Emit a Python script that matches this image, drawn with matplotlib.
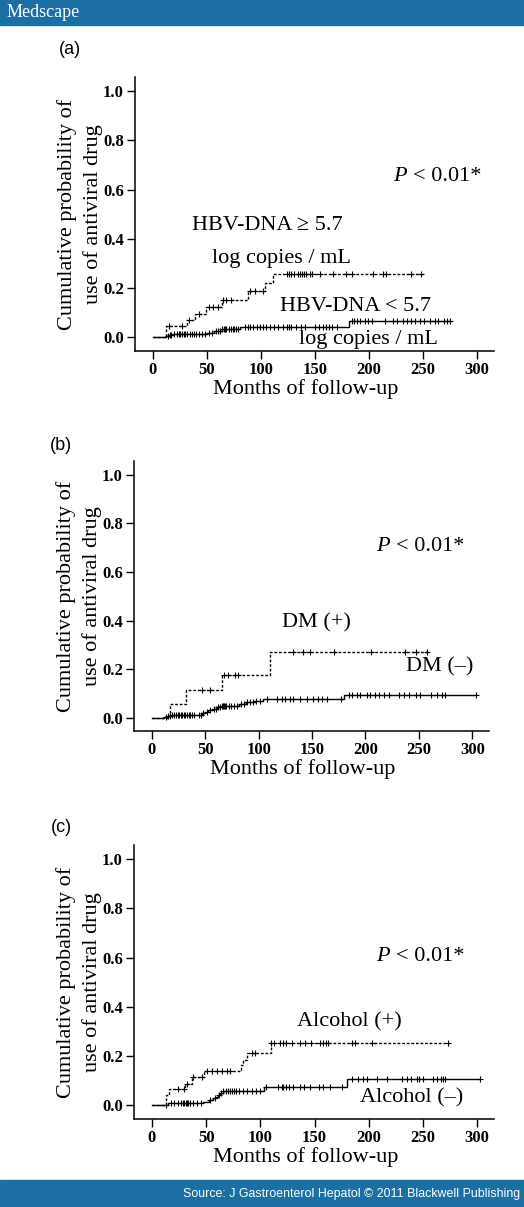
import numpy as np
import matplotlib
matplotlib.use("Agg")
import matplotlib.pyplot as plt
from matplotlib.patches import Rectangle

SERIF = "Liberation Serif"
SANS = "Liberation Sans"

# ---- panel (a): HBV-DNA ----
a_hi_times = [0, 12.3, 31.5, 39, 49, 64, 88, 104, 111]
a_hi_probs = [0, 0.046, 0.07, 0.097, 0.124, 0.154, 0.189, 0.221, 0.259]
a_hi_end = 250
a_hi_censor = [14.5, 27, 33, 43, 51.5, 56, 60.5, 65, 68, 72, 90, 94.5, 102,
               124, 126, 128, 131, 134, 136, 138, 140, 142, 145, 147, 155,
               167, 179, 184, 204, 213, 216, 239, 248]

a_lo_times = [0, 12.5, 15, 19, 50, 57, 64, 81, 181]
a_lo_probs = [0, 0.005, 0.009, 0.012, 0.018, 0.028, 0.035, 0.043, 0.067]
a_lo_end = 276
a_lo_censor = [14, 16, 17, 20, 22, 24, 25, 27, 29, 30, 32, 34, 36, 38, 40, 43,
               45, 48, 52, 55, 58, 60, 62, 64, 66, 67, 68, 70, 72, 74, 75, 77,
               79, 85, 88, 90, 93, 96, 99, 102, 105, 108, 112, 116, 120, 124,
               126, 128, 132, 137, 141, 150, 154, 157, 160, 163, 166, 170,
               184, 186, 189, 192, 196, 199, 203, 215, 222, 226, 231, 235,
               239, 242, 247, 251, 256, 261, 264, 269, 272, 275]

# ---- panel (b): DM ----
b_pos_times = [0, 17.5, 32.5, 66, 110.5]
b_pos_probs = [0, 0.056, 0.114, 0.176, 0.269]
b_pos_end = 258
b_pos_censor = [47.5, 55, 68, 71, 78, 81, 132, 142, 148, 171, 205, 237, 247,
                257.5]

b_neg_times = [0, 12, 15, 18, 47, 50, 53, 57, 61, 65, 82, 88, 97, 104, 180]
b_neg_probs = [0, 0.004, 0.008, 0.012, 0.018, 0.024, 0.03, 0.036, 0.042,
               0.048, 0.056, 0.064, 0.07, 0.077, 0.095]
b_neg_end = 303
b_neg_censor = [13, 15, 17, 19, 21, 23, 25, 26, 27, 28, 30, 31, 33, 35, 36, 38,
                40, 44, 46, 48, 52, 55, 58, 60, 62, 64, 66, 67, 68, 69, 70, 72,
                74, 77, 80, 84, 86, 89, 92, 95, 98, 101, 107.6, 117, 121.6,
                124.8, 129.4, 132.6, 138.9, 145, 150.7, 156, 159.2, 163.9,
                177.3, 184.2, 187.3, 192, 195, 201.3, 204.5, 209.2, 212.3,
                217, 221.7, 231, 236, 240.5, 246.8, 251.4, 260.8, 267, 271.7,
                274.8, 303]

# ---- panel (c): Alcohol ----
c_pos_times = [0, 12.6, 16, 30.4, 36.6, 48.3, 81.8, 84.3, 88, 109.8]
c_pos_probs = [0, 0.043, 0.066, 0.088, 0.114, 0.141, 0.163, 0.185, 0.212,
               0.255]
c_pos_end = 274
c_pos_censor = [24, 29.4, 32, 38, 46, 50.4, 55, 59.6, 64.3, 69, 72, 92, 95,
                110.3, 112.8, 118, 121, 124, 129.6, 136.5, 141, 147, 155,
                157.5, 160.5, 162.6, 184.2, 187.3, 202.6, 273.3]

c_neg_times = [0, 15, 47.3, 53, 56, 59, 61, 63, 66, 103.6, 180.2]
c_neg_probs = [0, 0.008, 0.015, 0.022, 0.029, 0.036, 0.043, 0.05, 0.057,
               0.075, 0.108]
c_neg_end = 302.6
c_neg_censor = [13, 18, 20, 24, 27, 29, 30, 31, 32, 33, 35, 38, 42, 45, 54, 58,
                62, 64, 66, 68, 70, 72, 74, 76, 78, 80, 84, 88, 92, 96, 100,
                104.9, 116.5, 119.6, 121.1, 123.6, 126.7, 130.4, 136.5, 140.2,
                145.8, 154.4, 158.1, 164.3, 175, 184.2, 190.3, 194.9, 198,
                207.2, 216.4, 230.3, 234.9, 238.6, 244.1, 246.6, 250.3, 259.5,
                262.6, 266.3, 268.7, 270.3, 302.6]

x_ticks = [0, 50, 100, 150, 200, 250, 300]
y_ticks = [0.0, 0.2, 0.4, 0.6, 0.8, 1.0]
y_label = "Cumulative probability of\nuse of antiviral drug"
x_label = "Months of follow-up"


def km_curve(ax, times, probs, end, censor, dotted):
    t = list(times) + [end]
    p = list(probs) + [probs[-1]]
    ls = (0, (2, 1.3)) if dotted else "-"
    ax.step(t, p, where="post", color="black", lw=1.0, ls=ls)
    idx = np.searchsorted(times, censor, side="right") - 1
    cy = np.array(probs)[idx]
    ax.plot(censor, cy, ls="none", marker="+", color="black", ms=5, mew=0.8)


def style_axes(ax):
    ax.set_xlim(-16.5, 315.5)
    ax.set_ylim(-0.055, 1.057)
    ax.set_xticks(x_ticks)
    ax.set_yticks(y_ticks)
    ax.set_yticklabels(["%.1f" % v for v in y_ticks])
    for lab in ax.get_xticklabels() + ax.get_yticklabels():
        lab.set_family(SERIF)
        lab.set_weight("bold")
        lab.set_fontsize(12)
    ax.tick_params(direction="out", length=6, width=1.0, pad=2)
    for s in ["top", "right"]:
        ax.spines[s].set_visible(False)
    for s in ["left", "bottom"]:
        ax.spines[s].set_linewidth(1.1)
    ax.set_ylabel(y_label, family=SERIF, fontsize=16, linespacing=1.4)
    ax.yaxis.set_label_coords(-0.09, 0.5)
    ax.set_xlabel(x_label, family=SERIF, fontsize=16)
    ax.xaxis.set_label_coords(0.476, -0.104)


def p_text(ax, x, y):
    ax.text(x, y, "P", family=SERIF, style="italic", fontsize=16, va="center")
    ax.annotate("< 0.01*", (x, y), xytext=(14.5, 0), textcoords="offset points",
                family=SERIF, fontsize=16, va="center")


fig = plt.figure(figsize=(5.24, 12.07), dpi=100)
W, H = 524.0, 1207.0

# header and footer bands
blue = "#1b6fa3"
fig.patches.append(Rectangle((0, 1 - 25 / H), 1, 25 / H, transform=fig.transFigure,
                             color=blue, zorder=0))
fig.patches.append(Rectangle((0, 0), 1, 27 / H, transform=fig.transFigure,
                             color=blue, zorder=0))
fig.text(7 / W, 1 - 12.5 / H, "Medscape", color="white", family=SERIF,
         fontsize=13, va="center", ha="left")
fig.text(520 / W, 13.5 / H,
         "Source: J Gastroenterol Hepatol \u00a9 2011 Blackwell Publishing",
         color="white", family=SANS, fontsize=8.9, va="center", ha="right")

# axes (left, bottom, width, height) from the layout
ax_a = fig.add_axes([135 / W, 1 - 351 / H, 359 / W, 274 / H])
ax_b = fig.add_axes([134 / W, 1 - 731 / H, 355 / W, 270 / H])
ax_c = fig.add_axes([134 / W, 1 - 1119 / H, 360 / W, 274 / H])

fig.text(70 / W, 1 - 50 / H, "(a)", family=SANS, fontsize=13, ha="center", va="center")
fig.text(61 / W, 1 - 445 / H, "(b)", family=SANS, fontsize=13, ha="center", va="center")
fig.text(61 / W, 1 - 827 / H, "(c)", family=SANS, fontsize=13, ha="center", va="center")

# panel a
km_curve(ax_a, a_lo_times, a_lo_probs, a_lo_end, a_lo_censor, False)
km_curve(ax_a, a_hi_times, a_hi_probs, a_hi_end, a_hi_censor, True)
style_axes(ax_a)
p_text(ax_a, 222, 0.655)
ax_a.text(36, 0.455, "HBV-DNA \u2265 5.7", family=SERIF, fontsize=16, va="center")
ax_a.text(54.5, 0.32, "log copies / mL", family=SERIF, fontsize=16, va="center")
ax_a.text(117.5, 0.127, "HBV-DNA < 5.7", family=SERIF, fontsize=16, va="center")
ax_a.text(135, -0.008, "log copies / mL", family=SERIF, fontsize=16, va="center")

# panel b
km_curve(ax_b, b_neg_times, b_neg_probs, b_neg_end, b_neg_censor, False)
km_curve(ax_b, b_pos_times, b_pos_probs, b_pos_end, b_pos_censor, True)
style_axes(ax_b)
p_text(ax_b, 210, 0.705)
ax_b.text(121.5, 0.391, "DM (+)", family=SERIF, fontsize=16, va="center")
ax_b.text(238, 0.21, "DM (\u2013)", family=SERIF, fontsize=16, va="center")

# panel c
km_curve(ax_c, c_neg_times, c_neg_probs, c_neg_end, c_neg_censor, False)
km_curve(ax_c, c_pos_times, c_pos_probs, c_pos_end, c_pos_censor, True)
style_axes(ax_c)
p_text(ax_c, 206.5, 0.604)
ax_c.text(133.5, 0.34, "Alcohol (+)", family=SERIF, fontsize=16, va="center")
ax_c.text(192, 0.03, "Alcohol (\u2013)", family=SERIF, fontsize=16, va="center")

fig.savefig("out.png", dpi=100)
